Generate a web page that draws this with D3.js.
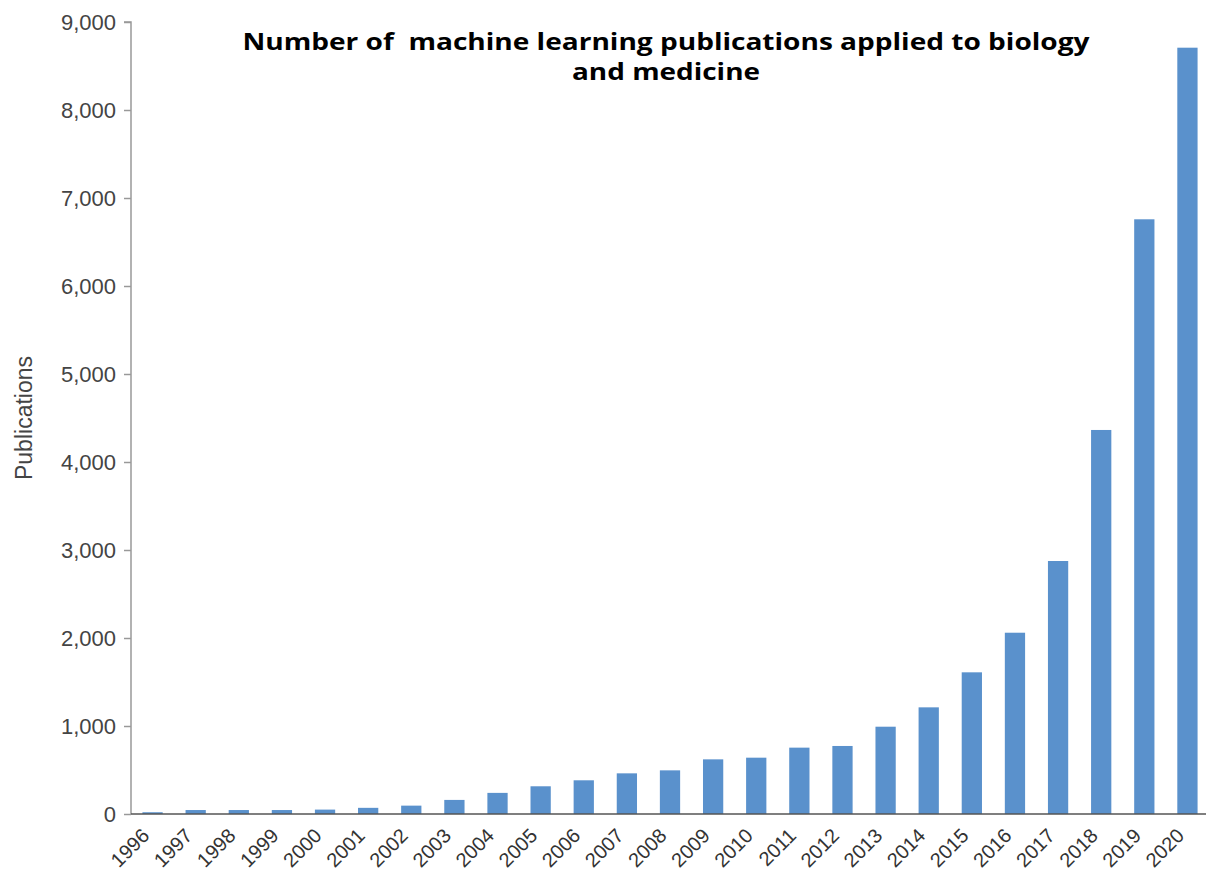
<!DOCTYPE html>
<html>
<head>
<meta charset="utf-8">
<script src="https://cdn.jsdelivr.net/npm/d3@7"></script>
<style>
  html, body { margin: 0; padding: 0; background: #fff; }
  svg { display: block; }
</style>
</head>
<body>
<svg id="chart" width="1206" height="872"></svg>
<script>
// Yearly counts of machine learning papers in biology and medicine
const years = ["1996","1997","1998","1999","2000","2001","2002","2003","2004","2005",
               "2006","2007","2008","2009","2010","2011","2012","2013","2014","2015",
               "2016","2017","2018","2019","2020"];
const publications = [20, 45, 45, 45, 50, 70, 95, 160, 240, 315,
                      383, 462, 496, 621, 640, 754, 773, 992, 1212, 1610,
                      2060, 2875, 4364, 6758, 8708];
const yTicks = [0, 1000, 2000, 3000, 4000, 5000, 6000, 7000, 8000, 9000];
const titleLines = ["Number of  machine learning publications applied to biology", "and medicine"];
const titleWidths = [847, 188];
const yLabel = "Publications";

const svg = d3.select("#chart");
const plotLeft = 131, plotRight = 1209, plotTop = 22, plotBottom = 814;

const x = d3.scaleBand().domain(years).range([plotLeft, plotRight]).paddingInner(0.53).paddingOuter(0.265);
const y = d3.scaleLinear().domain([0, 9000]).range([plotBottom, plotTop]);

// bars
svg.append("g").selectAll("rect")
  .data(years.map((yr, i) => ({ yr, v: publications[i] })))
  .join("rect")
  .attr("x", d => x(d.yr))
  .attr("width", x.bandwidth())
  .attr("y", d => y(d.v))
  .attr("height", d => y(0) - y(d.v))
  .attr("fill", "#5a91cc");

// y axis
const yAxis = svg.append("g")
  .attr("transform", `translate(${plotLeft},0)`)
  .call(d3.axisLeft(y).tickValues(yTicks).tickFormat(d3.format(",")).tickSize(10).tickSizeOuter(7).tickPadding(5));
yAxis.select(".domain").attr("d", `M-7,${plotTop}H0V${plotBottom}`).attr("stroke", "#999").attr("stroke-width", 1.5);
yAxis.selectAll(".tick line").attr("x2", -7).attr("stroke", "#999").attr("stroke-width", 1.5);
yAxis.selectAll(".tick text")
  .attr("x", -15)
  .attr("font-family", "'Liberation Sans', Arial, sans-serif")
  .attr("font-size", 22).attr("fill", "#444");

// x axis
const xAxis = svg.append("g")
  .attr("transform", `translate(0,${plotBottom})`)
  .call(d3.axisBottom(x).tickSize(0));
xAxis.select(".domain").attr("d", `M${plotLeft},0H1206`).attr("stroke", "#555").attr("stroke-width", 1.5);
xAxis.selectAll(".tick text")
  .attr("x", 0).attr("y", 0)
  .attr("dy", "0.35em")
  .attr("font-family", "'Liberation Sans', Arial, sans-serif")
  .attr("font-size", 20).attr("fill", "#333")
  .attr("text-anchor", "end")
  .attr("transform", "translate(-7,18) rotate(-45)");

// axis title
svg.append("text")
  .attr("transform", `translate(32,418) rotate(-90)`)
  .attr("text-anchor", "middle")
  .attr("font-family", "'Liberation Sans', Arial, sans-serif")
  .attr("font-size", 23).attr("fill", "#444")
  .text(yLabel);

// chart title
svg.append("g").selectAll("text")
  .data(titleLines)
  .join("text")
  .attr("x", 666)
  .attr("y", (d, i) => 50 + i * 30)
  .attr("text-anchor", "middle")
  .attr("xml:space", "preserve")
  .style("white-space", "pre")
  .attr("textLength", (d, i) => titleWidths[i])
  .attr("lengthAdjust", "spacingAndGlyphs")
  .attr("font-family", "'Open Sans', Lato, sans-serif")
  .attr("font-weight", "bold")
  .attr("font-size", 24)
  .attr("fill", "#000")
  .text(d => d);
</script>
</body>
</html>
